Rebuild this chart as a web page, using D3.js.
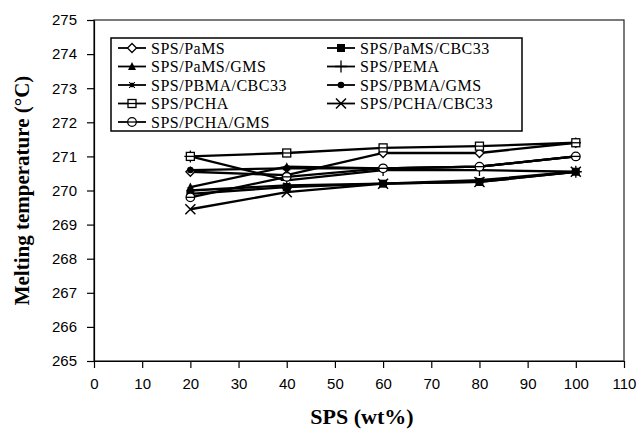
<!DOCTYPE html>
<html lang="en">
<head>
<meta charset="utf-8">
<script src="https://d3js.org/d3.v7.min.js"></script>
<style>
body { margin: 0; background: #fff; }
.tick text { font-family: "Liberation Sans", Arial, sans-serif; font-size: 15px; fill: #000; }
.axis path, .axis line { stroke: #000; stroke-width: 1.2px; }
.legend text { font-family: "Liberation Serif", "Times New Roman", serif; font-size: 16px; letter-spacing: 0.5px; }
.series-line { fill: none; stroke: #000; stroke-width: 2.3px; }
</style>
</head>
<body>
<div id="chart"></div>
<script>
var width = 642, height = 434;

// x values (SPS wt%)
var sps = [20, 40, 60, 80, 100];

var seriesNames = ["SPS/PaMS", "SPS/PaMS/CBC33", "SPS/PaMS/GMS", "SPS/PEMA",
    "SPS/PBMA/CBC33", "SPS/PBMA/GMS", "SPS/PCHA", "SPS/PCHA/CBC33", "SPS/PCHA/GMS"];
var markers = ["diamondOpen", "squareFilled", "triangleFilled", "plus",
    "starSmall", "circleSmall", "squareOpen", "cross", "circleOpen"];

var pams        = [270.55, 270.45, 271.1, 271.1, 271.4];
var pamsCbc     = [269.9, 270.1, 270.2, 270.25, 270.55];
var pamsGms     = [270.1, 270.7, 270.65, 270.7, 271.0];
var pema        = [271.0, 270.3, 270.6, 270.6, 270.55];
var pbmaCbc     = [270.0, 270.15, 270.2, 270.3, 270.55];
var pbmaGms     = [270.6, 270.65, 270.65, 270.7, 271.0];
var pcha        = [271.0, 271.1, 271.25, 271.3, 271.4];
var pchaCbc     = [269.45, 269.95, 270.2, 270.25, 270.55];
var pchaGms     = [269.8, 270.4, 270.65, 270.7, 271.0];

var allValues = [pams, pamsCbc, pamsGms, pema, pbmaCbc, pbmaGms, pcha, pchaCbc, pchaGms];

var xTicks = d3.range(0, 111, 10);
var yTicks = d3.range(265, 276, 1);

var margin = {left: 94, right: 18, top: 20, bottom: 73};

var x = d3.scaleLinear().domain([0, 110]).range([margin.left, width - margin.right]);
var y = d3.scaleLinear().domain([265, 275]).range([height - margin.bottom, margin.top]);

var svg = d3.select("#chart").append("svg")
    .attr("width", width)
    .attr("height", height);

// plot area frame
svg.append("rect")
    .attr("x", x(0)).attr("y", y(275))
    .attr("width", x(110) - x(0)).attr("height", y(265) - y(275))
    .attr("fill", "none").attr("stroke", "#222").attr("stroke-width", 1.2);

svg.append("g")
    .attr("class", "axis")
    .attr("transform", "translate(0," + y(265) + ")")
    .call(d3.axisBottom(x).tickValues(xTicks).tickSize(7).tickSizeOuter(0).tickPadding(10));

svg.append("g")
    .attr("class", "axis")
    .attr("transform", "translate(" + x(0) + ",0)")
    .call(d3.axisLeft(y).tickValues(yTicks).tickSize(7).tickSizeOuter(0).tickPadding(10));

svg.append("text")
    .attr("transform", "translate(29," + (y(270)) + ") rotate(-90)")
    .attr("text-anchor", "middle")
    .style("font-family", "'Liberation Serif', serif")
    .style("font-weight", "bold")
    .style("font-size", "21px")
    .text("Melting temperature (\u00B0C)");

svg.append("text")
    .attr("x", (x(0) + x(110)) / 2 + 3)
    .attr("y", 424)
    .attr("text-anchor", "middle")
    .style("font-family", "'Liberation Serif', serif")
    .style("font-weight", "bold")
    .style("font-size", "22px")
    .text("SPS (wt%)");

function drawMarker(g, type) {
    if (type === "diamondOpen") {
        g.append("path").attr("d", "M0,-4.5L4.5,0L0,4.5L-4.5,0Z").attr("fill", "#fff").attr("stroke", "#000").attr("stroke-width", 1.3);
    } else if (type === "squareFilled") {
        g.append("rect").attr("x", -4).attr("y", -4).attr("width", 8).attr("height", 8).attr("fill", "#000");
    } else if (type === "triangleFilled") {
        g.append("path").attr("d", "M0,-4.5L4,3.5L-4,3.5Z").attr("fill", "#000");
    } else if (type === "plus") {
        g.append("path").attr("d", "M0,-6V6M-6,0H6").attr("stroke", "#000").attr("stroke-width", 1.3);
    } else if (type === "starSmall") {
        g.append("rect").attr("x", -2.2).attr("y", -2.2).attr("width", 4.4).attr("height", 4.4).attr("fill", "#000");
        g.append("path").attr("d", "M-3,-3L3,3M3,-3L-3,3").attr("stroke", "#000").attr("stroke-width", 1);
    } else if (type === "circleSmall") {
        g.append("circle").attr("r", 3.3).attr("fill", "#000");
    } else if (type === "squareOpen") {
        g.append("rect").attr("x", -4).attr("y", -4).attr("width", 8).attr("height", 8).attr("fill", "#fff").attr("stroke", "#000").attr("stroke-width", 1.3);
        g.append("path").attr("d", "M-4,0H4").attr("stroke", "#000").attr("stroke-width", 1.3);
    } else if (type === "cross") {
        g.append("path").attr("d", "M-5,-5L5,5M5,-5L-5,5").attr("stroke", "#000").attr("stroke-width", 1.5);
    } else if (type === "circleOpen") {
        g.append("circle").attr("r", 4.3).attr("fill", "#fff").attr("stroke", "#000").attr("stroke-width", 1.3);
        g.append("path").attr("d", "M-4.3,0H4.3").attr("stroke", "#000").attr("stroke-width", 1.3);
    }
}

var line = d3.line()
    .x(function (d, i) { return x(sps[i]); })
    .y(function (d) { return y(d); });

allValues.forEach(function (vals, si) {
    var g = svg.append("g").attr("class", "series");
    g.append("path").attr("class", "series-line").attr("d", line(vals));
    vals.forEach(function (v, i) {
        var m = g.append("g").attr("transform", "translate(" + x(sps[i]) + "," + y(v) + ")");
        drawMarker(m, markers[si]);
    });
});

// legend
var legend = svg.append("g").attr("class", "legend");
legend.append("rect")
    .attr("x", 111).attr("y", 38).attr("width", 411).attr("height", 93)
    .attr("fill", "#fff").attr("stroke", "#000").attr("stroke-width", 1.5);

seriesNames.forEach(function (name, i) {
    var col = i % 2, row = Math.floor(i / 2);
    var lx = col === 0 ? 118 : 327;
    var ly = 48 + row * 18.5;
    var item = legend.append("g").attr("transform", "translate(" + lx + "," + ly + ")");
    item.append("line").attr("x1", 0).attr("x2", 28).attr("y1", 0).attr("y2", 0)
        .attr("stroke", "#000").attr("stroke-width", 1.8);
    drawMarker(item.append("g").attr("transform", "translate(14,0)"), markers[i]);
    item.append("text").attr("x", 33).attr("y", 5.5).text(name);
});
</script>
</body>
</html>
